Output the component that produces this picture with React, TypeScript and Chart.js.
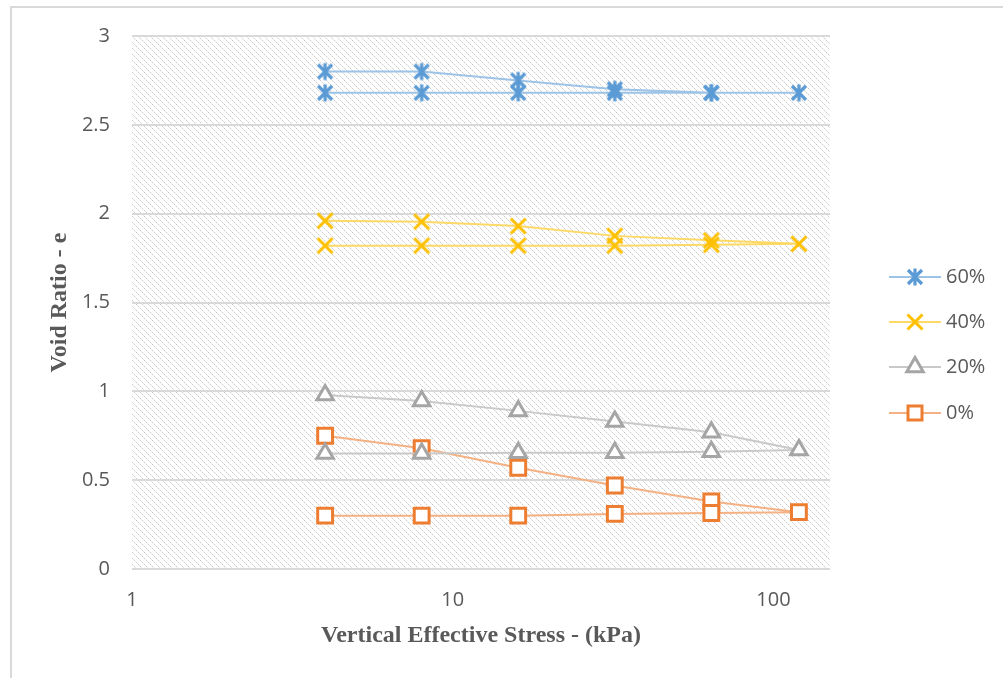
import React, { useEffect, useRef } from "react";
import { Chart, registerables } from "chart.js";

Chart.register(...registerables);

// Vertical effective stress (kPa): loading 4 → 120, then unloading back to 4
const stress = [4, 8, 16, 32, 64, 120, 64, 32, 16, 8, 4];

// Void ratio for each fibre content
const e60 = [2.8, 2.8, 2.75, 2.7, 2.68, 2.68, 2.68, 2.68, 2.68, 2.68, 2.68];
const e40 = [1.96, 1.955, 1.93, 1.875, 1.85, 1.83, 1.825, 1.82, 1.82, 1.82, 1.82];
const e20 = [0.98, 0.945, 0.89, 0.83, 0.77, 0.67, 0.66, 0.655, 0.655, 0.65, 0.65];
const e0 = [0.75, 0.68, 0.57, 0.47, 0.38, 0.32, 0.315, 0.31, 0.3, 0.3, 0.3];

const seriesLabels = ["60%", "40%", "20%", "0%"];
const xTicks = [1, 10, 100];

const TEXT = "#595959";
const GRID = "#d9d9d9";

function makeStar(color: string) {
  const c = document.createElement("canvas");
  c.width = 20;
  c.height = 20;
  const g = c.getContext("2d")!;
  g.strokeStyle = color;
  g.lineWidth = 3.2;
  g.lineCap = "butt";
  g.beginPath();
  g.moveTo(3, 3);
  g.lineTo(17, 17);
  g.moveTo(17, 3);
  g.lineTo(3, 17);
  g.moveTo(10, 1.5);
  g.lineTo(10, 18.5);
  g.stroke();
  return c;
}

function makeCross(color: string) {
  const c = document.createElement("canvas");
  c.width = 20;
  c.height = 20;
  const g = c.getContext("2d")!;
  g.strokeStyle = color;
  g.lineWidth = 3;
  g.beginPath();
  g.moveTo(2.5, 2.5);
  g.lineTo(17.5, 17.5);
  g.moveTo(17.5, 2.5);
  g.lineTo(2.5, 17.5);
  g.stroke();
  return c;
}

// Dotted downward-diagonal hatch for the plot area
function makeHatch() {
  const c = document.createElement("canvas");
  c.width = 6;
  c.height = 6;
  const g = c.getContext("2d")!;
  g.fillStyle = "#ffffff";
  g.fillRect(0, 0, 6, 6);
  g.fillStyle = "#cccccc";
  for (let i = 0; i < 6; i += 2) g.fillRect(i, i, 1, 1);
  g.fillStyle = "#e6e6e6";
  for (let i = 1; i < 6; i += 2) g.fillRect(i, i, 1, 1);
  return c;
}

export default function App() {
  const ref = useRef<HTMLCanvasElement | null>(null);

  useEffect(() => {
    const canvas = ref.current;
    if (!canvas) return;

    const star = makeStar("#5B9BD5");
    const cross = makeCross("#FFC000");
    const hatch = makeHatch();

    const pts = (ys: number[]) => stress.map((x, i) => ({ x, y: ys[i] }));

    const plotBackground = {
      id: "plotBackground",
      beforeDraw(chart: any) {
        const { ctx, chartArea: a } = chart;
        ctx.save();
        ctx.fillStyle = ctx.createPattern(hatch, "repeat");
        ctx.fillRect(a.left, a.top, a.right - a.left, a.bottom - a.top);
        ctx.restore();
      },
    };

    const sideLegend = {
      id: "sideLegend",
      afterDraw(chart: any) {
        const { ctx } = chart;
        const rows = [277, 322, 367, 413];
        chart.data.datasets.forEach((ds: any, i: number) => {
          const y = rows[i];
          ctx.save();
          ctx.strokeStyle = ds.borderColor;
          ctx.lineWidth = 2;
          ctx.beginPath();
          ctx.moveTo(889, y);
          ctx.lineTo(941, y);
          ctx.stroke();
          const ps = ds.pointStyle;
          if (ps instanceof HTMLCanvasElement) {
            ctx.drawImage(ps, 915 - ps.width / 2, y - ps.height / 2);
          } else if (ps === "rect") {
            ctx.fillStyle = "#ffffff";
            ctx.strokeStyle = ds.pointBorderColor;
            ctx.lineWidth = ds.pointBorderWidth;
            ctx.fillRect(908, y - 7, 14, 14);
            ctx.strokeRect(908, y - 7, 14, 14);
          } else if (ps === "triangle") {
            const r = ds.pointRadius;
            ctx.fillStyle = "#ffffff";
            ctx.strokeStyle = ds.pointBorderColor;
            ctx.lineWidth = ds.pointBorderWidth;
            ctx.beginPath();
            ctx.moveTo(915, y - r);
            ctx.lineTo(915 + r * 0.866, y + r * 0.5);
            ctx.lineTo(915 - r * 0.866, y + r * 0.5);
            ctx.closePath();
            ctx.fill();
            ctx.stroke();
          }
          ctx.fillStyle = TEXT;
          ctx.font = '20px "Open Sans"';
          ctx.textAlign = "left";
          ctx.textBaseline = "middle";
          ctx.fillText(ds.label, 946, y);
          ctx.restore();
        });
      },
    };

    const chart = new Chart(canvas, {
      type: "scatter",
      data: {
        datasets: [
          {
            label: seriesLabels[0],
            data: pts(e60),
            showLine: true,
            borderColor: "#9DC3E6",
            borderWidth: 2,
            pointStyle: star,
            pointRadius: 8,
          },
          {
            label: seriesLabels[1],
            data: pts(e40),
            showLine: true,
            borderColor: "#FFD966",
            borderWidth: 2,
            pointStyle: cross,
            pointRadius: 8,
          },
          {
            label: seriesLabels[2],
            data: pts(e20),
            showLine: true,
            borderColor: "#C9C9C9",
            borderWidth: 2,
            pointStyle: "triangle",
            pointRadius: 9.5,
            pointBorderColor: "#A5A5A5",
            pointBackgroundColor: "#ffffff",
            pointBorderWidth: 3,
          },
          {
            label: seriesLabels[3],
            data: pts(e0),
            showLine: true,
            borderColor: "#F4B183",
            borderWidth: 2,
            pointStyle: "rect",
            pointRadius: 10.5,
            pointBorderColor: "#ED7D31",
            pointBackgroundColor: "#ffffff",
            pointBorderWidth: 3,
          },
        ] as any,
      },
      options: {
        responsive: false,
        animation: false,
        layout: { padding: { left: 0, top: 36, right: 173, bottom: 0 } },
        plugins: {
          legend: { display: false },
          tooltip: { enabled: false },
        },
        scales: {
          x: {
            type: "logarithmic",
            min: 1,
            max: 150,
            afterBuildTicks(scale: any) {
              scale.ticks = xTicks.map((v) => ({ value: v, major: true }));
            },
            afterFit(scale: any) {
              scale.height = 109;
            },
            ticks: {
              color: TEXT,
              font: { family: "Open Sans", size: 20 },
              padding: 19,
              autoSkip: false,
              maxRotation: 0,
              callback: (v: any) => String(v),
            },
            grid: { display: false, drawTicks: false },
            border: { display: false },
            title: {
              display: true,
              text: "Vertical Effective Stress - (kPa)",
              color: TEXT,
              font: { family: "Liberation Serif", size: 24, weight: "bold" },
              padding: { top: 0, bottom: 28 },
            },
          },
          y: {
            min: 0,
            max: 3,
            afterFit(scale: any) {
              scale.width = 132;
            },
            ticks: {
              stepSize: 0.5,
              color: TEXT,
              font: { family: "Open Sans", size: 20 },
              padding: 22,
              callback: (v: any) => String(Number(v)),
            },
            grid: { color: GRID, lineWidth: 2, drawTicks: false },
            border: { display: false },
            title: {
              display: true,
              text: "Void Ratio - e",
              color: TEXT,
              font: { family: "Liberation Serif", size: 24, weight: "bold" },
              padding: { top: 45, bottom: 0 },
            },
          },
        },
      },
      plugins: [plotBackground, sideLegend],
    });

    return () => chart.destroy();
  }, []);

  return (
    <div style={{ position: "fixed", left: 0, top: 0, width: 1003, height: 678, background: "#ffffff" }}>
      <div
        style={{
          position: "absolute",
          left: 10,
          top: 6,
          right: -10,
          bottom: -10,
          borderLeft: "2px solid #d9d9d9",
          borderTop: "2px solid #d9d9d9",
        }}
      />
      <canvas ref={ref} width={1003} height={678} style={{ position: "absolute", left: 0, top: 0, display: "block" }} />
    </div>
  );
}
